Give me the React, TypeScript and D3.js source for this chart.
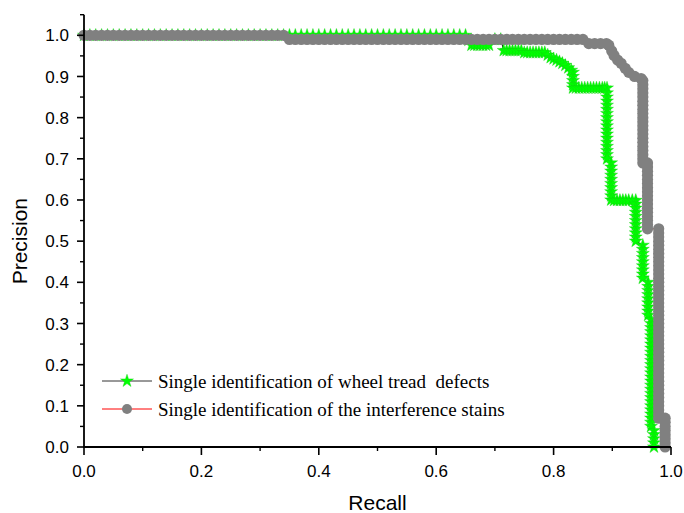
import React from 'react';
import * as d3 from 'd3';

// ---------- data ----------
const xMajorTicks = [0, 0.2, 0.4, 0.6, 0.8, 1.0];
const xMinorTicks = [0.1, 0.3, 0.5, 0.7, 0.9];
const yMajorTicks = [0, 0.1, 0.2, 0.3, 0.4, 0.5, 0.6, 0.7, 0.8, 0.9, 1.0];
const yMinorTicks = [0.05, 0.15, 0.25, 0.35, 0.45, 0.55, 0.65, 0.75, 0.85, 0.95, 1.05];

const seriesNames = [
  'Single identification of wheel tread  defects',
  'Single identification of the interference stains',
];

// wheel tread defects: [recall, precision]
const defectsPR: [number, number][] = [
  [0.00,1],[0.01,1],[0.02,1],[0.03,1],[0.04,1],[0.05,1],[0.06,1],[0.07,1],[0.08,1],[0.09,1],
  [0.10,1],[0.11,1],[0.12,1],[0.13,1],[0.14,1],[0.15,1],[0.16,1],[0.17,1],[0.18,1],[0.19,1],
  [0.20,1],[0.21,1],[0.22,1],[0.23,1],[0.24,1],[0.25,1],[0.26,1],[0.27,1],[0.28,1],[0.29,1],
  [0.30,1],[0.31,1],[0.32,1],[0.33,1],[0.34,1],[0.35,1],[0.36,1],[0.37,1],[0.38,1],[0.39,1],
  [0.40,1],[0.41,1],[0.42,1],[0.43,1],[0.44,1],[0.45,1],[0.46,1],[0.47,1],[0.48,1],[0.49,1],
  [0.50,1],[0.51,1],[0.52,1],[0.53,1],[0.54,1],[0.55,1],[0.56,1],[0.57,1],[0.58,1],[0.59,1],
  [0.60,1],[0.61,1],[0.62,1],[0.63,1],[0.64,1],[0.65,1],
  [0.655,0.988],[0.66,0.976],[0.665,0.976],[0.67,0.976],[0.675,0.976],[0.68,0.976],[0.685,0.976],[0.69,0.976],[0.70,0.99],[0.71,0.99],
  [0.715,0.963],[0.72,0.963],[0.725,0.963],[0.73,0.963],[0.735,0.963],[0.74,0.963],[0.745,0.963],
  [0.75,0.958],[0.755,0.958],[0.76,0.958],[0.765,0.958],[0.77,0.958],[0.775,0.958],[0.78,0.958],[0.785,0.958],
  [0.79,0.952],[0.795,0.946],[0.80,0.943],[0.805,0.94],[0.81,0.936],[0.815,0.932],[0.82,0.927],[0.825,0.921],
  [0.83,0.915],[0.833,0.91],[0.833,0.90],[0.833,0.89],[0.833,0.88],[0.833,0.872],
  [0.838,0.872],[0.843,0.872],[0.848,0.872],[0.853,0.872],[0.858,0.872],[0.863,0.872],[0.868,0.872],[0.873,0.872],[0.878,0.872],[0.883,0.872],[0.887,0.872],
  [0.891,0.872],[0.891,0.86],[0.891,0.85],[0.891,0.84],[0.891,0.83],[0.891,0.82],[0.891,0.81],[0.891,0.80],[0.891,0.79],
  [0.891,0.78],[0.891,0.77],[0.891,0.76],[0.891,0.75],[0.891,0.74],[0.891,0.73],[0.891,0.72],[0.891,0.71],[0.891,0.70],
  [0.898,0.69],[0.898,0.68],[0.898,0.67],[0.898,0.66],[0.898,0.65],[0.898,0.64],[0.898,0.63],[0.898,0.62],[0.898,0.61],[0.898,0.60],
  [0.903,0.599],[0.908,0.599],[0.913,0.599],[0.918,0.599],[0.923,0.599],[0.928,0.599],[0.934,0.599],[0.94,0.599],
  [0.94,0.59],[0.94,0.58],[0.94,0.57],[0.94,0.56],[0.94,0.55],[0.94,0.54],[0.94,0.53],[0.94,0.52],[0.94,0.51],[0.94,0.50],
  [0.952,0.49],[0.952,0.48],[0.952,0.47],[0.952,0.46],[0.952,0.45],[0.952,0.44],[0.952,0.43],[0.952,0.42],[0.952,0.41],
  [0.961,0.40],[0.961,0.39],[0.961,0.38],[0.961,0.37],[0.961,0.36],[0.961,0.35],[0.961,0.34],[0.961,0.33],[0.961,0.32],
  [0.966,0.31],[0.966,0.30],[0.966,0.29],[0.966,0.28],[0.966,0.27],[0.966,0.26],[0.966,0.25],[0.966,0.24],[0.966,0.23],
  [0.966,0.22],[0.966,0.21],[0.966,0.20],[0.966,0.19],[0.966,0.18],[0.966,0.17],[0.966,0.16],[0.966,0.15],[0.966,0.14],
  [0.966,0.13],[0.966,0.12],[0.966,0.11],[0.966,0.10],[0.966,0.09],[0.966,0.08],[0.966,0.07],[0.966,0.06],[0.966,0.05],
  [0.971,0.04],[0.971,0.03],[0.971,0.02],[0.971,0.01],[0.971,0],
];

// interference stains: [recall, precision]
const stainsPR: [number, number][] = [
  [0.00,1],[0.01,1],[0.02,1],[0.03,1],[0.04,1],[0.05,1],[0.06,1],[0.07,1],[0.08,1],[0.09,1],
  [0.10,1],[0.11,1],[0.12,1],[0.13,1],[0.14,1],[0.15,1],[0.16,1],[0.17,1],[0.18,1],[0.19,1],
  [0.20,1],[0.21,1],[0.22,1],[0.23,1],[0.24,1],[0.25,1],[0.26,1],[0.27,1],[0.28,1],[0.29,1],
  [0.30,1],[0.31,1],[0.32,1],[0.33,1],[0.34,1],
  [0.35,0.99],[0.36,0.99],[0.37,0.99],[0.38,0.99],[0.39,0.99],
  [0.40,0.99],[0.41,0.99],[0.42,0.99],[0.43,0.99],[0.44,0.99],[0.45,0.99],[0.46,0.99],[0.47,0.99],[0.48,0.99],[0.49,0.99],
  [0.50,0.99],[0.51,0.99],[0.52,0.99],[0.53,0.99],[0.54,0.99],[0.55,0.99],[0.56,0.99],[0.57,0.99],[0.58,0.99],[0.59,0.99],
  [0.60,0.99],[0.61,0.99],[0.62,0.99],[0.63,0.99],[0.64,0.99],[0.65,0.99],[0.66,0.99],[0.67,0.99],[0.68,0.99],[0.69,0.99],
  [0.70,0.99],[0.71,0.99],[0.72,0.99],[0.73,0.99],[0.74,0.99],[0.75,0.99],[0.76,0.99],[0.77,0.99],[0.78,0.99],[0.79,0.99],
  [0.80,0.99],[0.81,0.99],[0.82,0.99],[0.83,0.99],[0.84,0.99],[0.85,0.99],
  [0.86,0.98],[0.87,0.98],[0.88,0.98],[0.89,0.98],
  [0.894,0.976],[0.899,0.962],[0.903,0.951],[0.909,0.94],[0.915,0.932],[0.922,0.92],[0.928,0.91],[0.938,0.90],[0.949,0.895],
  [0.952,0.89],[0.952,0.88],[0.952,0.87],[0.952,0.86],[0.952,0.85],[0.952,0.84],[0.952,0.83],[0.952,0.82],[0.952,0.81],[0.952,0.80],
  [0.952,0.79],[0.952,0.78],[0.952,0.77],[0.952,0.76],[0.952,0.75],[0.952,0.74],[0.952,0.73],[0.952,0.72],[0.952,0.71],[0.952,0.70],[0.952,0.69],
  [0.96,0.69],[0.96,0.68],[0.96,0.67],[0.96,0.66],[0.96,0.65],[0.96,0.64],[0.96,0.63],[0.96,0.62],[0.96,0.61],
  [0.96,0.60],[0.96,0.59],[0.96,0.58],[0.96,0.57],[0.96,0.56],[0.96,0.55],[0.96,0.54],[0.96,0.53],
  [0.979,0.53],[0.979,0.52],[0.979,0.51],[0.979,0.50],[0.979,0.49],[0.979,0.48],[0.979,0.47],[0.979,0.46],[0.979,0.45],
  [0.979,0.44],[0.979,0.43],[0.979,0.42],[0.979,0.41],[0.979,0.40],[0.979,0.39],[0.979,0.38],[0.979,0.37],[0.979,0.36],
  [0.979,0.35],[0.979,0.34],[0.979,0.33],[0.979,0.32],[0.979,0.31],[0.979,0.30],[0.979,0.29],[0.979,0.28],[0.979,0.27],
  [0.979,0.26],[0.979,0.25],[0.979,0.24],[0.979,0.23],[0.979,0.22],[0.979,0.21],[0.979,0.20],[0.979,0.19],[0.979,0.18],
  [0.979,0.17],[0.979,0.16],[0.979,0.15],[0.979,0.14],[0.979,0.13],[0.979,0.12],[0.979,0.11],[0.979,0.10],[0.979,0.09],
  [0.979,0.08],[0.979,0.07],
  [0.99,0.07],[0.99,0.06],[0.99,0.05],[0.99,0.04],[0.99,0.03],[0.99,0.02],[0.99,0.01],[0.99,0],
];

// ---------- chart ----------
const W = 684;
const H = 513;
const x0 = 84, x1 = 671;
const yBottom = 447, yUnit = 411.7;

export default function App() {
  const x = d3.scaleLinear().domain([0, 1]).range([x0, x1]);
  const y = d3.scaleLinear().domain([0, 1.05]).range([yBottom, yBottom - 1.05 * yUnit]);
  const line = d3.line<[number, number]>().x(d => x(d[0])).y(d => y(d[1]));
  const star = d3.symbol().type(d3.symbolStar).size(52)();
  const fmt = d3.format('.1f');
  const green = '#00ff00';
  const gray = '#808080';
  const axisFont = 'Arial, "Liberation Sans", sans-serif';
  const serif = '"Liberation Serif", "Times New Roman", serif';

  const legendX = 102, legendY1 = 381, legendY2 = 409;

  return (
    <svg width={W} height={H} style={{ position: 'absolute', left: 0, top: 0, background: '#fff' }}>
      <rect x={0} y={0} width={W} height={H} fill="#fff" />
      {/* series: defects */}
      <path d={line(defectsPR) || ''} fill="none" stroke="#000" strokeWidth={1} />
      {defectsPR.map((d, i) => (
        <path key={'s' + i} d={star} transform={`translate(${x(d[0])},${y(d[1])})`} fill={green} stroke="#10d010" strokeWidth={0.4} />
      ))}
      {/* series: stains */}
      <path d={line(stainsPR) || ''} fill="none" stroke="#ff0000" strokeWidth={1} />
      {stainsPR.map((d, i) => (
        <circle key={'c' + i} cx={x(d[0])} cy={y(d[1])} r={5.6} fill={gray} />
      ))}

      {/* axes */}
      <line x1={x0} x2={x0} y1={y(1.05)} y2={yBottom + 1} stroke="#000" strokeWidth={1.8} />
      <line x1={x0 - 1} x2={x1} y1={yBottom} y2={yBottom} stroke="#000" strokeWidth={1.8} />
      {yMajorTicks.map(t => (
        <g key={'ym' + t}>
          <line x1={x0 - 7} x2={x0} y1={y(t)} y2={y(t)} stroke="#000" strokeWidth={1.6} />
          <text x={69} y={y(t)} dy="0.36em" textAnchor="end" fontFamily={axisFont} fontSize={17} fill="#000">{fmt(t)}</text>
        </g>
      ))}
      {yMinorTicks.map(t => (
        <line key={'yn' + t} x1={x0 - 4} x2={x0} y1={y(t)} y2={y(t)} stroke="#000" strokeWidth={1.4} />
      ))}
      {xMajorTicks.map(t => (
        <g key={'xm' + t}>
          <line x1={x(t)} x2={x(t)} y1={yBottom} y2={yBottom + 8} stroke="#000" strokeWidth={1.6} />
          <text x={x(t)} y={477} textAnchor="middle" fontFamily={axisFont} fontSize={17} fill="#000">{fmt(t)}</text>
        </g>
      ))}
      {xMinorTicks.map(t => (
        <line key={'xn' + t} x1={x(t)} x2={x(t)} y1={yBottom} y2={yBottom + 4} stroke="#000" strokeWidth={1.4} />
      ))}

      {/* axis titles */}
      <text x={(x0 + x1) / 2} y={510} textAnchor="middle" fontFamily={axisFont} fontSize={21} fill="#000">Recall</text>
      <text transform={`translate(27,${y(0.5)}) rotate(-90)`} textAnchor="middle" fontFamily={axisFont} fontSize={21} fill="#000">Precision</text>

      {/* legend */}
      <line x1={legendX} x2={legendX + 50} y1={legendY1} y2={legendY1} stroke="#333" strokeWidth={1} />
      <path d={star} transform={`translate(${legendX + 25},${legendY1})`} fill={green} stroke="#10d010" strokeWidth={0.4} />
      <text x={158} y={legendY1 + 6.5} fontFamily={serif} fontSize={19} fill="#000" style={{ whiteSpace: 'pre' }}>{seriesNames[0]}</text>
      <line x1={legendX} x2={legendX + 50} y1={legendY2} y2={legendY2} stroke="#ff0000" strokeWidth={1} />
      <circle cx={legendX + 25} cy={legendY2} r={5} fill={gray} />
      <text x={158} y={legendY2 + 6.5} fontFamily={serif} fontSize={19} fill="#000" style={{ whiteSpace: 'pre' }}>{seriesNames[1]}</text>
    </svg>
  );
}
